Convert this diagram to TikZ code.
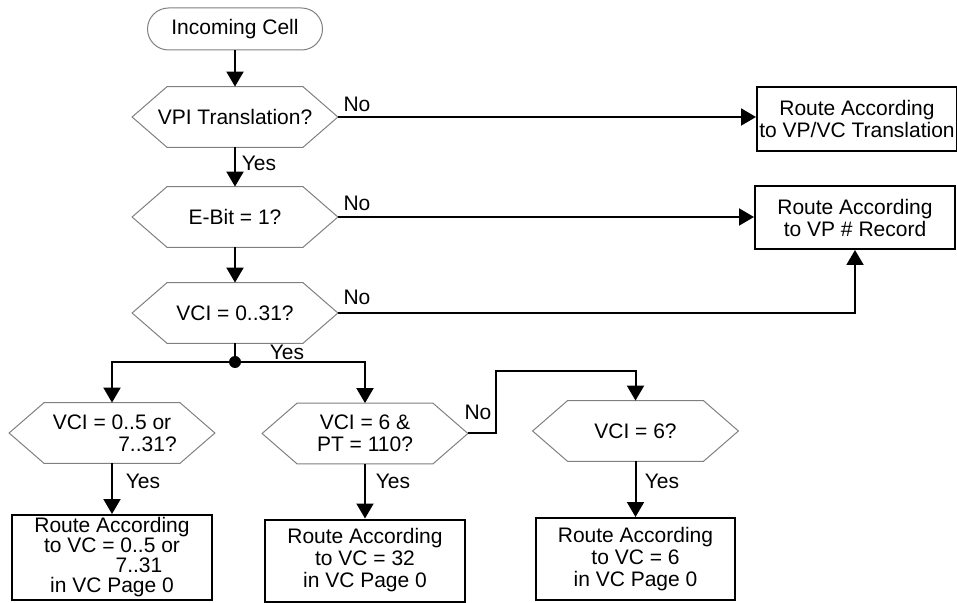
\documentclass[tikz,border=0pt]{standalone}
\usepackage{fontspec}
\setmainfont{Liberation Sans}
\usetikzlibrary{arrows.meta, positioning}

\begin{document}
\begin{tikzpicture}[
        x=0.5pt, y=-0.5pt,
        font=\fontsize{10.5}{11}\selectfont,
        % Define common styles for nodes
        terminal/.style={rectangle, draw=gray, line width=0.5pt, rounded corners=10.5pt, minimum width=87.5pt, minimum height=21pt, inner sep=0pt},
        hex/.style={rectangle, minimum width=102.5pt, minimum height=30pt, inner sep=0pt, align=center},
        hexline/.style={draw=gray, line width=0.5pt},
        route/.style={rectangle, draw, line width=1pt, minimum width=100pt, inner sep=0pt, align=center},
        dot/.style={circle, fill, inner sep=0pt, minimum size=6pt},
        lbl/.style={inner sep=0pt},
        line/.style={draw, line width=1pt, -{Triangle[width=8.5pt, length=7.5pt]}},
        plain/.style={draw, line width=1pt},
    ]
    \useasboundingbox (0,0) rectangle (957,603);

    % Top of the chart
    \node (start) [terminal] at (235,29) {Incoming Cell};
    \node (vpi) [hex] at (235,117) {VPI Translation?};
    \node (ebit) [hex] at (235,217) {E-Bit = 1?};
    \node (vci) [hex] at (235,313) {VCI = 0..31?};

    % Right side results
    \node (trans) [route, minimum height=32pt] at (857,119) {Route According\\to VP/VC Translation};
    \node (record) [route, minimum height=31.5pt] at (855,217.5) {Route According\\to VP \# Record};

    % Split below VCI check
    \node (junc) [dot] at (235,362) {};
    \node (vcilow) [hex] at (112,433) {VCI = 0..5 or\\\hspace*{35.5pt}7..31?};
    \node (vcipt) [hex] at (365,433.5) {VCI = 6 \&\\PT = 110?};
    \node (vcisix) [hex] at (635.5,431) {VCI = 6?};
    \coordinate (bend) at (496,371);

    % Bottom results
    \node (routelow) [route, minimum height=42.5pt, font=\fontsize{10.5}{10}\selectfont] at (112,557.5) {Route According\\to VC = 0..5 or\\\hspace*{27pt}7..31\\in VC Page 0};
    \node (routept) [route, minimum height=41pt] at (365,560.5) {Route According\\to VC = 32\\in VC Page 0};
    \node (routesix) [route, minimum height=41pt, minimum width=99.5pt] at (635.5,559) {Route According\\to VC = 6\\in VC Page 0};

    % Hexagon outlines
    \foreach \n in {vpi, ebit, vci, vcilow, vcipt, vcisix}
        \draw[hexline] (\n.west) -- ([xshift=17.5pt]\n.north west) -- ([xshift=-17.5pt]\n.north east)
            -- (\n.east) -- ([xshift=-17.5pt]\n.south east) -- ([xshift=17.5pt]\n.south west) -- cycle;

    % Draw connections/arrows
    \draw[line] (start.south) -- (vpi.north);
    \draw[line] (vpi.east) -- (vpi.east -| trans.west);
    \draw[line] (vpi.south) -- (ebit.north);
    \draw[line] (ebit.east) -- (ebit.east -| record.west);
    \draw[line] (ebit.south) -- (vci.north);
    \draw[line] (vci.east) -| (record.south);
    \draw[plain] (vci.south) -- (junc.center);
    \draw[line] (junc.center) -| (vcilow.north);
    \draw[line] (junc.center) -| (vcipt.north);
    \draw[line] (vcipt.east) -| (bend) -| (vcisix.north);
    \draw[line] (vcilow.south) -- (routelow.north);
    \draw[line] (vcipt.south) -- (routept.north);
    \draw[line] (vcisix.south) -- (routesix.north);

    % Branch labels
    \node (novpi) [lbl] at (357,104) {No};
    \node (yesvpi) [lbl] at (259,163) {Yes};
    \node (noebit) [lbl] at (357,203) {No};
    \node (novci) [lbl] at (357,297) {No};
    \node (yesvci) [lbl] at (287,352) {Yes};
    \node (yeslow) [lbl] at (143,481) {Yes};
    \node (yespt) [lbl] at (393,481) {Yes};
    \node (nopt) [lbl] at (478,412) {No};
    \node (yessix) [lbl] at (662,481) {Yes};
\end{tikzpicture}
\end{document}
